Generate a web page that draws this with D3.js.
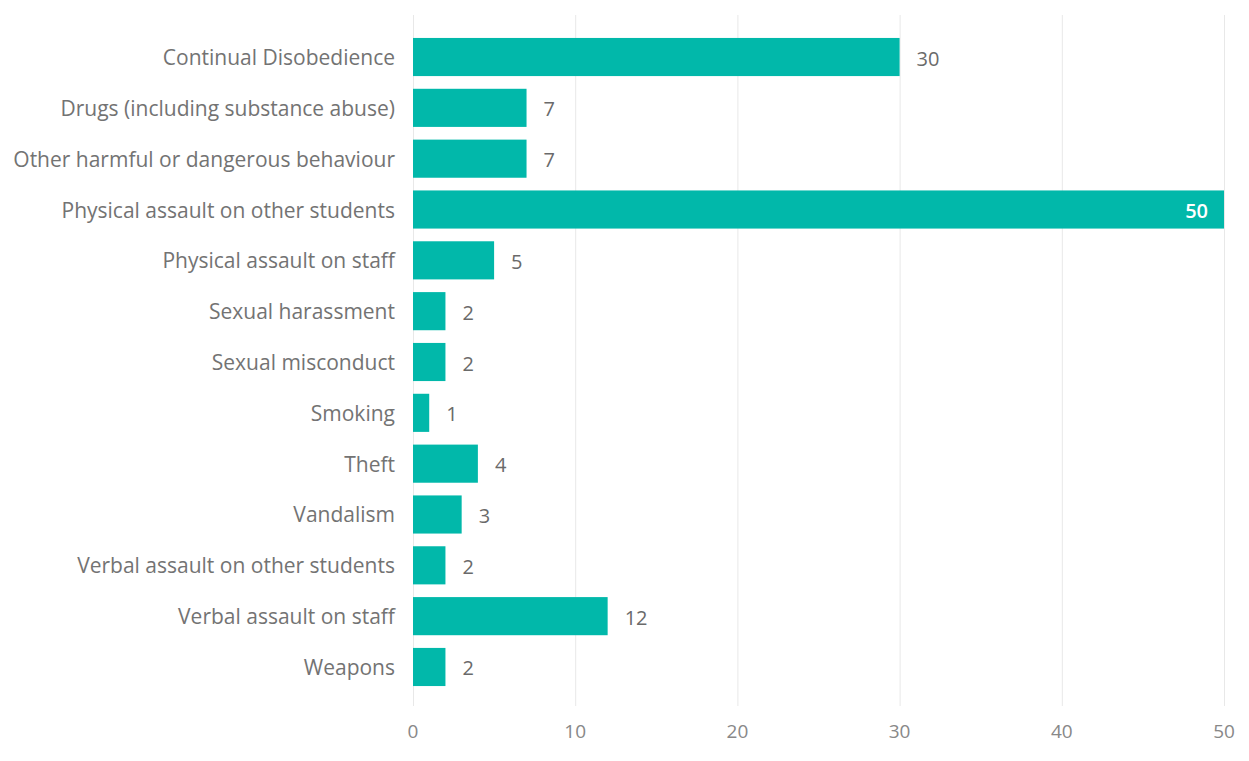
<!DOCTYPE html>
<html>
<head>
<meta charset="utf-8">
<script src="https://cdn.jsdelivr.net/npm/d3@7"></script>
<style>
  body { margin: 0; background: #fff; }
  svg { display: block; }
  text { font-family: "Open Sans", "Noto Sans", sans-serif; }
</style>
</head>
<body>
<svg id="chart" width="1249" height="761"></svg>
<script>
// Exclusion reasons and counts
const categories = [
  "Continual Disobedience",
  "Drugs (including substance abuse)",
  "Other harmful or dangerous behaviour",
  "Physical assault on other students",
  "Physical assault on staff",
  "Sexual harassment",
  "Sexual misconduct",
  "Smoking",
  "Theft",
  "Vandalism",
  "Verbal assault on other students",
  "Verbal assault on staff",
  "Weapons"
];
const counts = [30, 7, 7, 50, 5, 2, 2, 1, 4, 3, 2, 12, 2];
const xTicks = [0, 10, 20, 30, 40, 50];

const svg = d3.select("#chart");
const plotLeft = 413, plotRight = 1224;
const plotTop = 31.6, plotBottom = 692.4;

const x = d3.scaleLinear().domain([0, 50]).range([plotLeft, plotRight]);
const y = d3.scaleBand().domain(categories).range([plotTop, plotBottom]).paddingInner(0.25).paddingOuter(0.125);

// vertical gridlines
svg.append("g").selectAll("line").data(xTicks).join("line")
  .attr("x1", d => x(d) + 0.5).attr("x2", d => x(d) + 0.5)
  .attr("y1", 15).attr("y2", 706)
  .attr("stroke", "#e8e8e8").attr("stroke-width", 1);

// x-axis tick labels
svg.append("g").selectAll("text").data(xTicks).join("text")
  .attr("x", d => x(d)).attr("y", 731)
  .attr("text-anchor", "middle").attr("dominant-baseline", "central")
  .attr("font-size", 19).attr("fill", "#888")
  .text(d => d);

// category labels
svg.append("g").selectAll("text").data(categories).join("text")
  .attr("x", plotLeft - 18).attr("y", d => y(d) + y.bandwidth() / 2)
  .attr("text-anchor", "end").attr("dominant-baseline", "central")
  .attr("font-size", 21).attr("fill", "#737373")
  .text(d => d);

const rows = categories.map((c, i) => ({ c, v: counts[i] }));

// bars
svg.append("g").selectAll("rect").data(rows).join("rect")
  .attr("x", x(0)).attr("y", d => y(d.c))
  .attr("width", d => x(d.v) - x(0)).attr("height", y.bandwidth())
  .attr("fill", "#01B8AA");

// value labels: inside the bar when it reaches the end of the axis
svg.append("g").selectAll("text").data(rows).join("text")
  .attr("x", d => d.v >= 50 ? x(d.v) - 16 : x(d.v) + 17)
  .attr("y", d => y(d.c) + y.bandwidth() / 2 + 1)
  .attr("text-anchor", d => d.v >= 50 ? "end" : "start")
  .attr("dominant-baseline", "central")
  .attr("font-size", 20)
  .attr("font-weight", d => d.v >= 50 ? 600 : 400)
  .attr("fill", d => d.v >= 50 ? "#fff" : "#6a6a6a")
  .text(d => d.v);
</script>
</body>
</html>
